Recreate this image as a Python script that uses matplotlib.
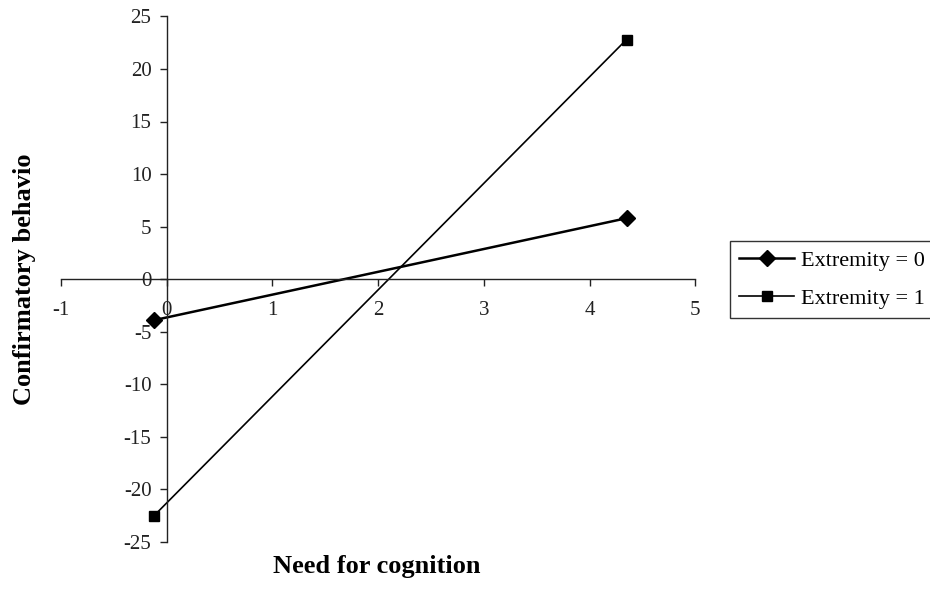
import matplotlib
matplotlib.use('Agg')
import matplotlib.pyplot as plt

plt.rcParams['font.family'] = ['Liberation Serif', 'DejaVu Serif']
plt.rcParams['axes.unicode_minus'] = False

need_x = [-0.12, 4.35]
extremity_0 = [-3.9, 5.8]
extremity_1 = [-22.5, 22.8]
labels = ['Extremity = 0', 'Extremity = 1']

fig = plt.figure(figsize=(9.3, 6.0), dpi=100)
ax = fig.add_axes([0.0656, 0.0967, 0.682, 0.876])

ax.plot(need_x, extremity_0, color='black', lw=1.8, marker='D', ms=8, label=labels[0])
ax.plot(need_x, extremity_1, color='black', lw=1.2, marker='s', ms=7.5, label=labels[1])

ax.set_xlim(-1, 5)
ax.set_ylim(-25, 25)
ax.set_xticks(range(-1, 6))
ax.set_yticks(range(-25, 30, 5))

# excel style: axes cross at the origin
ax.spines['left'].set_position(('data', 0))
ax.spines['bottom'].set_position(('data', 0))
ax.spines['top'].set_visible(False)
ax.spines['right'].set_visible(False)
for s in ['left', 'bottom']:
    ax.spines[s].set_linewidth(1.0)
    ax.spines[s].set_color('#222222')
ax.tick_params(axis='both', direction='out', length=5, width=1, labelsize=15, colors='#222222')
ax.tick_params(axis='x', pad=11)
ax.tick_params(axis='y', pad=6)

fig.text(0.026, 0.535, 'Confirmatory behavio', rotation=90, fontsize=19,
         fontweight='bold', ha='center', va='center')
fig.text(0.405, 0.055, 'Need for cognition', fontsize=19, fontweight='bold',
         ha='center', va='center')

leg = fig.legend(loc='upper left', bbox_to_anchor=(0.785, 0.598), fontsize=16,
                 frameon=True, fancybox=False, edgecolor='black', handlelength=2.5,
                 handletextpad=0.3, borderpad=0.4, labelspacing=0.8, borderaxespad=0)
leg.get_frame().set_linewidth(1.0)

fig.savefig('out.png', dpi=100)
